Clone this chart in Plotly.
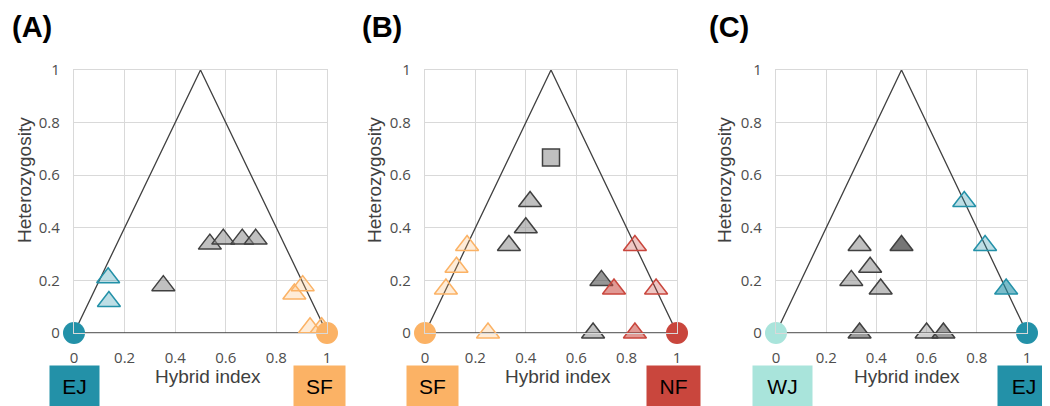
import plotly.graph_objects as go

# ---------------- data ----------------
# triangle outline (theoretical limits)
tri_x = [0, 0.5, 1, 0]
tri_y = [0, 1, 0, 0]

# Panel A : EJ (0) x SF (1)
A_ej_x = [0.135, 0.138]
A_ej_y = [0.21, 0.12]
A_hyb_x = [0.353, 0.537, 0.59, 0.665, 0.718]
A_hyb_y = [0.18, 0.338, 0.357, 0.357, 0.357]
A_sf_x = [0.871, 0.904, 0.933, 0.979]
A_sf_y = [0.148, 0.18, 0.02, 0.02]

# Panel B : SF (0) x NF (1)
B_sq_x = [0.5]
B_sq_y = [0.667]
B_hyb_x = [0.417, 0.4, 0.333, 0.667]
B_hyb_y = [0.5, 0.4, 0.333, 0.0]
B_hyb_dark_x = [0.7]
B_hyb_dark_y = [0.2]
B_sf_x = [0.167, 0.125, 0.083, 0.25]
B_sf_y = [0.333, 0.25, 0.167, 0.0]
B_nf_light_x = [0.833, 0.917]
B_nf_light_y = [0.333, 0.167]
B_nf_mid_x = [0.75, 0.833]
B_nf_mid_y = [0.167, 0.0]

# Panel C : WJ (0) x EJ (1)
C_hyb_x = [0.333, 0.375, 0.3, 0.417]
C_hyb_y = [0.333, 0.25, 0.2, 0.167]
C_hyb_pale_x = [0.6]
C_hyb_pale_y = [0.0]
C_hyb_mid_x = [0.333, 0.667]
C_hyb_mid_y = [0.0, 0.0]
C_hyb_dark_x = [0.5]
C_hyb_dark_y = [0.333]
C_ej_light_x = [0.75, 0.833]
C_ej_light_y = [0.5, 0.333]
C_ej_mid_x = [0.917]
C_ej_mid_y = [0.167]

tick_vals = [0, 0.2, 0.4, 0.6, 0.8, 1]
tick_text = ["0", "0.2", "0.4", "0.6", "0.8", "1"]
panel_labels = ["(A)", "(B)", "(C)"]
panel_parents = [("EJ", "SF"), ("SF", "NF"), ("WJ", "EJ")]

# ---------------- styles ----------------
TEAL = "#2391A8"
ORANGE = "#FBB265"
RED = "#C9463D"
MINT = "#A9E4DB"
GREY_LINE = "#404040"
parent_col = {"EJ": TEAL, "SF": ORANGE, "NF": RED, "WJ": MINT}

TRI = 20

fig = go.Figure()

axes = [("x", "y"), ("x2", "y2"), ("x3", "y3")]


def add_pts(ax, xs, ys, fill, line, symbol="triangle-up", size=TRI, lw=1.5):
    fig.add_trace(go.Scatter(
        x=xs, y=ys, xaxis=ax[0], yaxis=ax[1], mode="markers",
        cliponaxis=False, showlegend=False, hoverinfo="x+y",
        marker=dict(symbol=symbol, size=size, color=fill,
                    line=dict(color=line, width=lw))))


for i, ax in enumerate(axes):
    fig.add_trace(go.Scatter(x=tri_x, y=tri_y, xaxis=ax[0], yaxis=ax[1],
                             mode="lines", cliponaxis=False, showlegend=False,
                             hoverinfo="skip",
                             line=dict(color=GREY_LINE, width=1.3)))

# Panel A
ax = axes[0]
add_pts(ax, A_ej_x, A_ej_y, "rgba(35,145,168,0.3)", TEAL)
add_pts(ax, A_hyb_x, A_hyb_y, "rgba(140,140,140,0.55)", GREY_LINE)
add_pts(ax, A_sf_x, A_sf_y, "rgba(251,178,101,0.25)", ORANGE)

# Panel B
ax = axes[1]
add_pts(ax, B_sq_x, B_sq_y, "rgba(140,140,140,0.55)", GREY_LINE, symbol="square", size=17)
add_pts(ax, B_hyb_x, B_hyb_y, "rgba(140,140,140,0.55)", GREY_LINE)
add_pts(ax, B_hyb_dark_x, B_hyb_dark_y, "rgba(80,80,80,0.6)", GREY_LINE)
add_pts(ax, B_sf_x, B_sf_y, "rgba(251,178,101,0.25)", ORANGE)
add_pts(ax, B_nf_light_x, B_nf_light_y, "rgba(201,70,61,0.3)", RED)
add_pts(ax, B_nf_mid_x, B_nf_mid_y, "rgba(201,70,61,0.55)", RED)

# Panel C
ax = axes[2]
add_pts(ax, C_hyb_x, C_hyb_y, "rgba(140,140,140,0.55)", GREY_LINE)
add_pts(ax, C_hyb_pale_x, C_hyb_pale_y, "rgba(160,160,160,0.5)", GREY_LINE)
add_pts(ax, C_hyb_mid_x, C_hyb_mid_y, "rgba(90,90,90,0.6)", GREY_LINE)
add_pts(ax, C_hyb_dark_x, C_hyb_dark_y, "rgba(60,60,60,0.7)", GREY_LINE)
add_pts(ax, C_ej_light_x, C_ej_light_y, "rgba(35,145,168,0.3)", TEAL)
add_pts(ax, C_ej_mid_x, C_ej_mid_y, "rgba(35,145,168,0.6)", TEAL)

# parent circles
for i, ax in enumerate(axes):
    left, right = panel_parents[i]
    add_pts(ax, [0], [0], parent_col[left], parent_col[left], symbol="circle", size=22, lw=0)
    add_pts(ax, [1], [0], parent_col[right], parent_col[right], symbol="circle", size=22, lw=0)

# ---------------- layout ----------------
# the page body has an 8 px margin, so the figure is drawn 8 px in from the window corner
OFF = 8
W, H = 1050 - OFF, 406 - OFF


def px(xp):
    return (xp - OFF) / W


def py(yp):
    return 1 - (yp - OFF) / H


x_dom = [(px(74), px(327)), (px(425), px(677)), (px(776), px(1027))]
y_dom = (py(333), py(70))

TICKFONT = dict(family="Open Sans, Noto Sans, sans-serif", size=15, color="#4D4D4D")
TITLEFONT = dict(family="Liberation Sans, Arial, sans-serif", size=19, color="#404040")

layout = dict(width=W, height=H, margin=dict(l=0, r=0, t=0, b=0, autoexpand=False),
              plot_bgcolor="white", paper_bgcolor="white", showlegend=False)

for i in range(3):
    sx = "" if i == 0 else str(i + 1)
    layout["xaxis" + sx] = dict(
        domain=list(x_dom[i]), range=[0, 1], anchor="y" + sx, automargin=False,
        tickvals=tick_vals, ticktext=tick_text, tickfont=TICKFONT,
        showgrid=True, gridcolor="#D9D9D9", gridwidth=1.3, zeroline=False,
        showline=True, linecolor="#D9D9D9", linewidth=1.3, mirror=True,
        ticks="outside", ticklen=11, tickcolor="rgba(0,0,0,0)", fixedrange=True)
    layout["yaxis" + sx] = dict(
        domain=list(y_dom), range=[0, 1], anchor="x" + sx, automargin=False,
        tickvals=tick_vals, ticktext=tick_text, tickfont=TICKFONT,
        showgrid=True, gridcolor="#D9D9D9", gridwidth=1.3, zeroline=False,
        showline=True, linecolor="#D9D9D9", linewidth=1.3, mirror=True,
        ticks="outside", ticklen=10, tickcolor="rgba(0,0,0,0)", fixedrange=True)

fig.update_layout(**layout)

# annotations: panel letters, axis titles, parent boxes
panel_lbl_x = [10, 360, 707]
title_x_center = [208, 558, 907]
ytitle_x = [24, 374, 724]
box_left = [(50, 99), (407, 458), (753, 812)]
box_right = [(294, 345), (647, 700), (998, 1050)]

for i in range(3):
    fig.add_annotation(x=px(panel_lbl_x[i]), y=py(27), xref="paper", yref="paper",
                       text="<b>" + panel_labels[i] + "</b>", showarrow=False,
                       xanchor="left", yanchor="middle",
                       font=dict(family="Liberation Sans, Arial, sans-serif", size=29, color="black"))
    fig.add_annotation(x=px(title_x_center[i]), y=py(376), xref="paper", yref="paper",
                       text="Hybrid index", showarrow=False, xanchor="center", yanchor="middle",
                       font=TITLEFONT)
    fig.add_annotation(x=px(ytitle_x[i]), y=py(180), xref="paper", yref="paper",
                       text="Heterozygosity", showarrow=False, textangle=-90,
                       xanchor="center", yanchor="middle", font=TITLEFONT)
    left, right = panel_parents[i]
    for (x0, x1), name in ((box_left[i], left), (box_right[i], right)):
        fig.add_annotation(x=px((x0 + x1) / 2), y=py(386), xref="paper", yref="paper",
                           text=name, showarrow=False, xanchor="center", yanchor="middle",
                           width=x1 - x0, height=40, bgcolor=parent_col[name], borderpad=0,
                           font=dict(family="Liberation Sans, Arial, sans-serif", size=21,
                                     color="black"))

fig.write_html("out.html")
